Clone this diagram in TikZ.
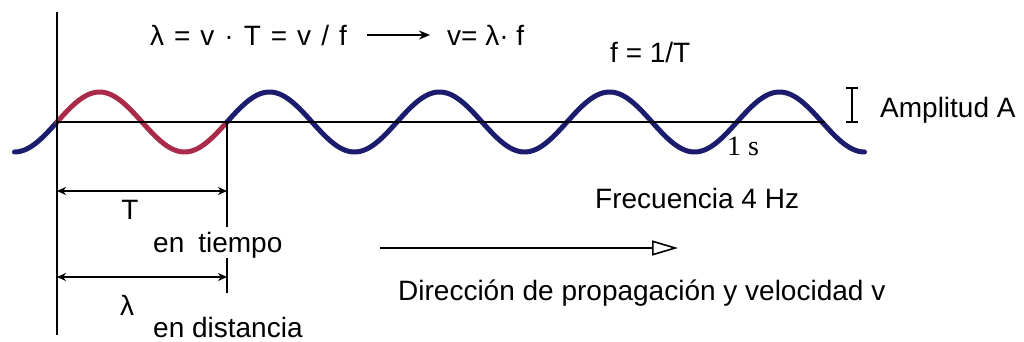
\documentclass[tikz,border=0pt]{standalone}
\usepackage{fontspec}
\setmainfont{Liberation Sans}
\newfontfamily\seriffam{Liberation Serif}
\usetikzlibrary{arrows.meta}
\definecolor{wavblue}{RGB}{28,28,110}
\definecolor{wavred}{RGB}{170,42,74}
\newcommand{\wsp}{\hspace{10pt}}
\begin{document}
\begin{tikzpicture}[x=1pt,y=-1pt,
  lbl/.style={inner sep=0pt,font=\fontsize{28}{32}\selectfont},
  wave/.style={line width=5pt,line cap=round,line join=round,smooth,samples=60},
  guide/.style={line width=2pt,black},
  dimarrow/.style={guide,{Stealth[length=9pt,width=8pt]}-{Stealth[length=9pt,width=8pt]}},
  eqarrow/.style={guide,-{Stealth[length=11pt,width=9pt]}},
  dirarrow/.style={guide,-{Triangle[open,length=26pt,width=15pt,line width=1.6pt]}}
]
\useasboundingbox (0,0) rectangle (1024,342);
\fill[white] (0,0) rectangle (1024,342);

% wave
\draw[wave,wavblue,domain=14.5:57] plot (\x,{122-30*sin(2.117647*(\x-57))});
\draw[wave,wavred,domain=57:227] plot (\x,{122-30*sin(2.117647*(\x-57))});
\draw[wave,wavblue,domain=227:864.5,samples=300] plot (\x,{122-30*sin(2.117647*(\x-57))});

% coordinates
\coordinate (o) at (57,122);
\coordinate (vtop) at (57,12);
\coordinate (vbot) at (57,335);
\coordinate (axend) at (825,122);
\coordinate (p1) at (227,122);
\coordinate (p1a) at (227,227);
\coordinate (p1b) at (227,258);
\coordinate (p1c) at (227,293);
\coordinate (tL) at (57,191);
\coordinate (tR) at (227,191);
\coordinate (lL) at (57,277);
\coordinate (lR) at (227,277);
\coordinate (amT) at (852,88);
\coordinate (amB) at (852,122);
\coordinate (dA) at (380,248);
\coordinate (dB) at (678,248);

% axis and guides
\draw[guide] (o) -- (axend);
\draw[guide] (vtop) -- (vbot);
\draw[guide] (p1) -- (p1a);
\draw[guide] (p1b) -- (p1c);
\draw[dimarrow] (tL) -- (tR);
\draw[dimarrow] (lL) -- (lR);
\draw[guide] (amT) -- (amB);
\draw[guide] ([xshift=-6pt]amT) -- ([xshift=6pt]amT);
\draw[guide] ([xshift=-6pt]amB) -- ([xshift=6pt]amB);
\draw[dirarrow] (dA) -- (dB);

% labels
\node[lbl,anchor=east] (eq1) at (347,35) {λ\wsp=\wsp v\wsp·\wsp T\wsp=\wsp v\wsp/\wsp f};
\node[lbl,anchor=west] (eq2) at (447,35) {v= λ· f};
\draw[eqarrow,shorten <=20pt,shorten >=17pt] (eq1.east) -- (eq2.west);
\node[lbl,anchor=west] (freq) at (610,52) {f = 1/T};
\node[lbl,anchor=west] (amp) at (880,110) {Amplitud A};
\node[lbl,anchor=west,font=\seriffam\fontsize{28}{32}\selectfont] (onesec) at (727,146) {1 s};
\node[lbl,anchor=west] (frec) at (595,198) {Frecuencia 4 Hz};
\node[lbl] (Tlab) at (130,210) {T};
\node[lbl,anchor=west] (tiempo) at (153,245) {en\hspace{14pt}tiempo};
\node[lbl] (lamlab) at (127,305) {λ};
\node[lbl,anchor=west] (dist) at (153,327) {en distancia};
\node[lbl,anchor=west] (dir) at (398,293) {Dirección de propagación y velocidad v};
\end{tikzpicture}
\end{document}
